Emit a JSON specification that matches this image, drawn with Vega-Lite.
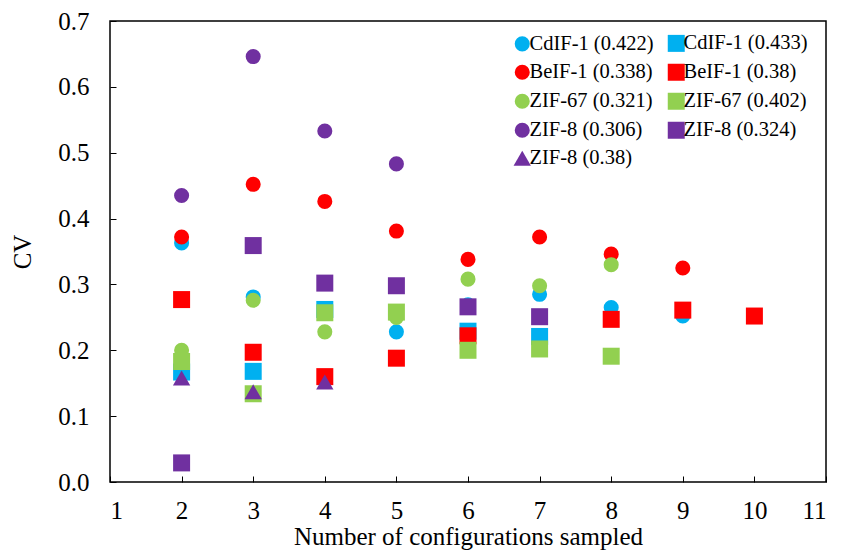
{
  "$schema": "https://vega.github.io/schema/vega-lite/v6.json",
  "width": 716,
  "height": 461,
  "autosize": {"type": "none"},
  "padding": {"left": 110, "top": 21, "right": 15, "bottom": 70},
  "background": "white",
  "config": {
    "view": {"stroke": "black", "strokeWidth": 1.5},
    "font": "Liberation Serif",
    "axis": {
      "grid": false,
      "domain": false,
      "tickColor": "black",
      "tickSize": -6,
      "tickWidth": 1,
      "labelFont": "Liberation Serif",
      "labelFontSize": 25,
      "labelColor": "black",
      "titleFont": "Liberation Serif",
      "titleFontSize": 25,
      "titleFontWeight": "normal",
      "titleColor": "black"
    },
    "legend": {"labelFont": "Liberation Serif"}
  },
  "data": {
    "values": [
      {"n": 2, "cv": 0.363, "series": "CdIF-1 (0.422)"},
      {"n": 3, "cv": 0.281, "series": "CdIF-1 (0.422)"},
      {"n": 5, "cv": 0.228, "series": "CdIF-1 (0.422)"},
      {"n": 6, "cv": 0.269, "series": "CdIF-1 (0.422)"},
      {"n": 7, "cv": 0.285, "series": "CdIF-1 (0.422)"},
      {"n": 8, "cv": 0.265, "series": "CdIF-1 (0.422)"},
      {"n": 9, "cv": 0.252, "series": "CdIF-1 (0.422)"},
      {"n": 2, "cv": 0.167, "series": "CdIF-1 (0.433)"},
      {"n": 3, "cv": 0.168, "series": "CdIF-1 (0.433)"},
      {"n": 4, "cv": 0.262, "series": "CdIF-1 (0.433)"},
      {"n": 6, "cv": 0.229, "series": "CdIF-1 (0.433)"},
      {"n": 7, "cv": 0.221, "series": "CdIF-1 (0.433)"},
      {"n": 2, "cv": 0.372, "series": "BeIF-1 (0.338)"},
      {"n": 3, "cv": 0.452, "series": "BeIF-1 (0.338)"},
      {"n": 4, "cv": 0.426, "series": "BeIF-1 (0.338)"},
      {"n": 5, "cv": 0.381, "series": "BeIF-1 (0.338)"},
      {"n": 6, "cv": 0.338, "series": "BeIF-1 (0.338)"},
      {"n": 7, "cv": 0.372, "series": "BeIF-1 (0.338)"},
      {"n": 8, "cv": 0.346, "series": "BeIF-1 (0.338)"},
      {"n": 9, "cv": 0.325, "series": "BeIF-1 (0.338)"},
      {"n": 2, "cv": 0.277, "series": "BeIF-1 (0.38)"},
      {"n": 3, "cv": 0.197, "series": "BeIF-1 (0.38)"},
      {"n": 4, "cv": 0.160, "series": "BeIF-1 (0.38)"},
      {"n": 5, "cv": 0.188, "series": "BeIF-1 (0.38)"},
      {"n": 6, "cv": 0.222, "series": "BeIF-1 (0.38)"},
      {"n": 8, "cv": 0.247, "series": "BeIF-1 (0.38)"},
      {"n": 9, "cv": 0.261, "series": "BeIF-1 (0.38)"},
      {"n": 10, "cv": 0.252, "series": "BeIF-1 (0.38)"},
      {"n": 2, "cv": 0.200, "series": "ZIF-67 (0.321)"},
      {"n": 3, "cv": 0.276, "series": "ZIF-67 (0.321)"},
      {"n": 4, "cv": 0.228, "series": "ZIF-67 (0.321)"},
      {"n": 5, "cv": 0.250, "series": "ZIF-67 (0.321)"},
      {"n": 6, "cv": 0.308, "series": "ZIF-67 (0.321)"},
      {"n": 7, "cv": 0.298, "series": "ZIF-67 (0.321)"},
      {"n": 8, "cv": 0.330, "series": "ZIF-67 (0.321)"},
      {"n": 2, "cv": 0.183, "series": "ZIF-67 (0.402)"},
      {"n": 3, "cv": 0.134, "series": "ZIF-67 (0.402)"},
      {"n": 4, "cv": 0.257, "series": "ZIF-67 (0.402)"},
      {"n": 5, "cv": 0.258, "series": "ZIF-67 (0.402)"},
      {"n": 6, "cv": 0.200, "series": "ZIF-67 (0.402)"},
      {"n": 7, "cv": 0.202, "series": "ZIF-67 (0.402)"},
      {"n": 8, "cv": 0.191, "series": "ZIF-67 (0.402)"},
      {"n": 2, "cv": 0.435, "series": "ZIF-8 (0.306)"},
      {"n": 3, "cv": 0.646, "series": "ZIF-8 (0.306)"},
      {"n": 4, "cv": 0.533, "series": "ZIF-8 (0.306)"},
      {"n": 5, "cv": 0.483, "series": "ZIF-8 (0.306)"},
      {"n": 2, "cv": 0.029, "series": "ZIF-8 (0.324)"},
      {"n": 3, "cv": 0.359, "series": "ZIF-8 (0.324)"},
      {"n": 4, "cv": 0.302, "series": "ZIF-8 (0.324)"},
      {"n": 5, "cv": 0.298, "series": "ZIF-8 (0.324)"},
      {"n": 6, "cv": 0.266, "series": "ZIF-8 (0.324)"},
      {"n": 7, "cv": 0.251, "series": "ZIF-8 (0.324)"},
      {"n": 2, "cv": 0.158, "series": "ZIF-8 (0.38)"},
      {"n": 3, "cv": 0.137, "series": "ZIF-8 (0.38)"},
      {"n": 4, "cv": 0.152, "series": "ZIF-8 (0.38)"}
    ]
  },
  "mark": {"type": "point", "filled": true, "opacity": 1},
  "encoding": {
    "x": {
      "field": "n",
      "type": "quantitative",
      "scale": {"domain": [1, 11], "nice": false, "zero": false},
      "axis": {
        "values": [1, 2, 3, 4, 5, 6, 7, 8, 9, 10, 11],
        "title": "Number of configurations sampled",
        "labelPadding": 22,
        "titlePadding": 1
      }
    },
    "y": {
      "field": "cv",
      "type": "quantitative",
      "scale": {"domain": [0, 0.7], "nice": false},
      "axis": {
        "values": [0, 0.1, 0.2, 0.3, 0.4, 0.5, 0.6, 0.7],
        "format": ".1f",
        "title": "CV",
        "labelPadding": 27,
        "titlePadding": 22
      }
    },
    "color": {
      "field": "series",
      "type": "nominal",
      "scale": {
        "domain": ["CdIF-1 (0.422)", "BeIF-1 (0.338)", "ZIF-67 (0.321)", "ZIF-8 (0.306)", "ZIF-8 (0.38)", "CdIF-1 (0.433)", "BeIF-1 (0.38)", "ZIF-67 (0.402)", "ZIF-8 (0.324)"],
        "range": ["#00B0F0", "#FF0000", "#92D050", "#7030A0", "#7030A0", "#00B0F0", "#FF0000", "#92D050", "#7030A0"]
      },
      "legend": {
        "title": null,
        "orient": "none",
        "legendX": 402,
        "legendY": 12,
        "columns": 2,
        "columnPadding": 10,
        "rowPadding": 5,
        "padding": 0,
        "symbolSize": 140,
        "symbolOpacity": 1,
        "labelOffset": -3,
        "labelFont": "Liberation Serif",
        "labelFontSize": 20.5,
        "labelColor": "black",
        "labelLimit": 300
      }
    },
    "shape": {
      "field": "series",
      "type": "nominal",
      "scale": {
        "domain": ["CdIF-1 (0.422)", "BeIF-1 (0.338)", "ZIF-67 (0.321)", "ZIF-8 (0.306)", "ZIF-8 (0.38)", "CdIF-1 (0.433)", "BeIF-1 (0.38)", "ZIF-67 (0.402)", "ZIF-8 (0.324)"],
        "range": ["circle", "circle", "circle", "circle", "triangle-up", "square", "square", "square", "square"]
      }
    },
    "size": {
      "field": "series",
      "type": "nominal",
      "scale": {
        "type": "ordinal",
        "domain": ["CdIF-1 (0.422)", "BeIF-1 (0.338)", "ZIF-67 (0.321)", "ZIF-8 (0.306)", "ZIF-8 (0.38)", "CdIF-1 (0.433)", "BeIF-1 (0.38)", "ZIF-67 (0.402)", "ZIF-8 (0.324)"],
        "range": [227, 227, 227, 227, 300, 289, 289, 289, 289]
      },
      "legend": null
    }
  }
}
